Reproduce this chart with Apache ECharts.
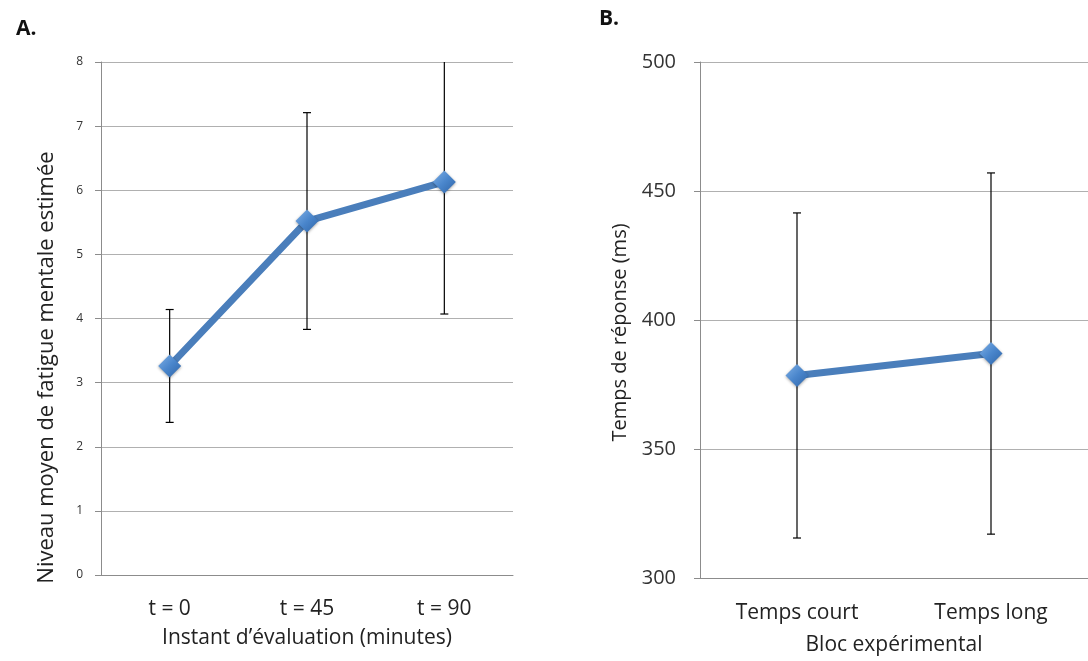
<!DOCTYPE html>
<html><head><meta charset="utf-8">
<script src="https://cdn.jsdelivr.net/npm/echarts@6/dist/echarts.min.js"></script>
<style>html,body{margin:0;padding:0;background:#fff}#c{width:1088px;height:661px}</style>
</head><body><div id="c"></div>
<script>
const catsA = ['t = 0', 't = 45', 't = 90'];
const meansA = [3.26, 5.52, 6.13];
const errA = [0.88, 1.69, 2.06];
const catsB = ['Temps court', 'Temps long'];
const meansB = [378.5, 387.0];
const errB = [63, 70];

const FONT = '"Open Sans", "Noto Sans", sans-serif';
const chart = echarts.init(document.getElementById('c'));

function errData(means, errs) {
  return means.map((m, i) => [i, m - errs[i], m + errs[i]]);
}
function renderErr(params, api) {
  const x = api.value(0);
  const lo = api.coord([x, api.value(1)]);
  const hi = api.coord([x, api.value(2)]);
  const w = 4;
  const st = { stroke: '#000', lineWidth: 1.2 };
  return {
    type: 'group',
    children: [
      { type: 'line', shape: { x1: lo[0], y1: lo[1], x2: hi[0], y2: hi[1] }, style: st },
      { type: 'line', shape: { x1: lo[0] - w, y1: lo[1], x2: lo[0] + w, y2: lo[1] }, style: st },
      { type: 'line', shape: { x1: hi[0] - w, y1: hi[1], x2: hi[0] + w, y2: hi[1] }, style: st }
    ]
  };
}
const markerColor = new echarts.graphic.LinearGradient(0, 0, 1, 1, [
  { offset: 0, color: '#7fb0e6' }, { offset: 0.5, color: '#4a86cc' }, { offset: 1, color: '#2f65a8' }
]);
const axisLineStyle = { color: '#8c8c8c', width: 1 };
const gridLineStyle = { color: '#b0b0b0', width: 1 };

chart.setOption({
  animation: false,
  textStyle: { fontFamily: FONT },
  title: [
    { text: 'A.', left: 11, top: 14, textStyle: { fontFamily: FONT, fontWeight: 'bold', fontSize: 21, color: '#111' } },
    { text: 'B.', left: 594, top: 4, textStyle: { fontFamily: FONT, fontWeight: 'bold', fontSize: 21, color: '#111' } }
  ],
  grid: [
    { left: 101, top: 62, width: 412, height: 513 },
    { left: 700, top: 62, right: -6, height: 519 }
  ],
  xAxis: [
    {
      gridIndex: 0, type: 'category', data: catsA, boundaryGap: true,
      axisLine: { lineStyle: axisLineStyle }, axisTick: { length: 6, lineStyle: axisLineStyle },
      axisLabel: { color: '#222', fontSize: 21, margin: 24, fontFamily: FONT },
      name: 'Instant d\u2019évaluation (minutes)', nameLocation: 'middle', nameGap: 53,
      nameTextStyle: { color: '#222', fontSize: 21, fontFamily: FONT }
    },
    {
      gridIndex: 1, type: 'category', data: catsB, boundaryGap: true,
      axisLine: { lineStyle: axisLineStyle }, axisTick: { length: 6, lineStyle: axisLineStyle },
      axisLabel: { color: '#222', fontSize: 21, margin: 25, fontFamily: FONT },
      name: 'Bloc expérimental', nameLocation: 'middle', nameGap: 57,
      nameTextStyle: { color: '#222', fontSize: 21, fontFamily: FONT }
    }
  ],
  yAxis: [
    {
      gridIndex: 0, type: 'value', min: 0, max: 8, interval: 1,
      axisLine: { show: true, lineStyle: axisLineStyle }, axisTick: { show: true, length: 6, lineStyle: axisLineStyle },
      splitLine: { lineStyle: gridLineStyle },
      axisLabel: { color: '#333', fontSize: 12, margin: 18, fontFamily: FONT },
      name: 'Niveau moyen de fatigue mentale estimée', nameLocation: 'middle', nameGap: 43,
      nameTextStyle: { color: '#222', fontSize: 22, fontFamily: FONT, padding: [0, 98, 0, 0] }
    },
    {
      gridIndex: 1, type: 'value', min: 300, max: 500, interval: 50,
      axisLine: { show: true, lineStyle: axisLineStyle }, axisTick: { show: true, length: 6, lineStyle: axisLineStyle },
      splitLine: { lineStyle: gridLineStyle },
      axisLabel: { color: '#333', fontSize: 20, margin: 24, fontFamily: FONT },
      name: 'Temps de réponse (ms)', nameLocation: 'middle', nameGap: 70,
      nameTextStyle: { color: '#222', fontSize: 20, fontFamily: FONT, padding: [0, 25, 0, 0] }
    }
  ],
  series: [
    { type: 'custom', xAxisIndex: 0, yAxisIndex: 0, clip: true, z: 1, renderItem: renderErr, data: errData(meansA, errA) },
    { type: 'custom', xAxisIndex: 1, yAxisIndex: 1, clip: true, z: 1, renderItem: renderErr, data: errData(meansB, errB) },
    {
      type: 'line', xAxisIndex: 0, yAxisIndex: 0, data: meansA, z: 3,
      lineStyle: { color: '#4a7ebb', width: 7 }, symbol: 'diamond', symbolSize: 23,
      itemStyle: { color: markerColor, shadowColor: 'rgba(0,0,0,0.35)', shadowBlur: 3, shadowOffsetY: 1 }
    },
    {
      type: 'line', xAxisIndex: 1, yAxisIndex: 1, data: meansB, z: 3,
      lineStyle: { color: '#4a7ebb', width: 7 }, symbol: 'diamond', symbolSize: 23,
      itemStyle: { color: markerColor, shadowColor: 'rgba(0,0,0,0.35)', shadowBlur: 3, shadowOffsetY: 1 }
    }
  ]
});
</script></body></html>
